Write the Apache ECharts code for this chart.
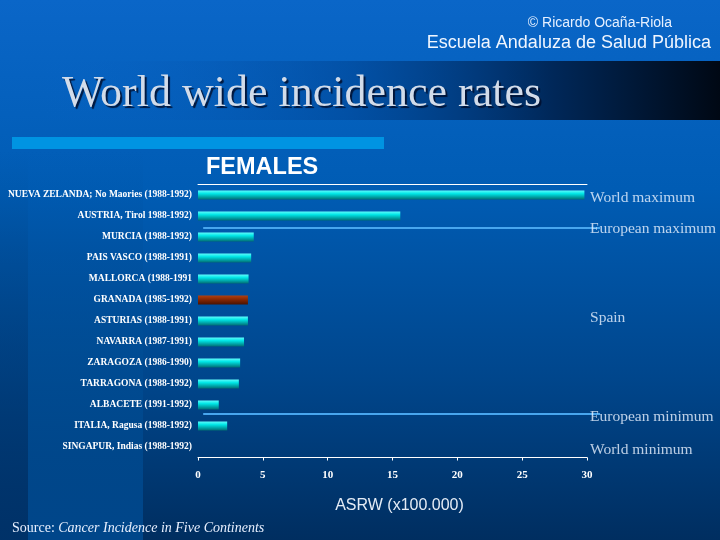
<!DOCTYPE html>
<html>
<head>
<meta charset="utf-8">
<script src="https://cdn.jsdelivr.net/npm/echarts@6/dist/echarts.min.js"></script>
<style>html,body{margin:0;padding:0;background:#0056a8;}#c{width:720px;height:540px;}</style>
</head>
<body>
<div id="c"></div>
<script>
// ---- data ----
const categories = [
  'NUEVA ZELANDA; No Maories (1988-1992)',
  'AUSTRIA, Tirol 1988-1992)',
  'MURCIA (1988-1992)',
  'PAIS VASCO (1988-1991)',
  'MALLORCA (1988-1991',
  'GRANADA (1985-1992)',
  'ASTURIAS (1988-1991)',
  'NAVARRA (1987-1991)',
  'ZARAGOZA (1986-1990)',
  'TARRAGONA (1988-1992)',
  'ALBACETE (1991-1992)',
  'ITALIA, Ragusa (1988-1992)',
  'SINGAPUR, Indias (1988-1992)'
];
const values = [29.8, 15.6, 4.3, 4.1, 3.9, 3.85, 3.85, 3.55, 3.25, 3.15, 1.6, 2.25, 0];
const highlighted = 'GRANADA (1985-1992)';
const xTicks = [0, 5, 10, 15, 20, 25, 30];
const sideLabels = ['World maximum', 'European maximum', 'Spain', 'European minimum', 'World minimum'];
const sideLabelRows = [0.65, 2.12, 6.37, 11.08, 12.66];
const refLineRows = [2.07, 10.93];
const refLineFrom = 0.4;
const refLineTo = 31;

// ---- chart ----
const chart = echarts.init(document.getElementById('c'), null, {renderer: 'canvas'});
const cyan = new echarts.graphic.LinearGradient(0, 0, 0, 1, [
  {offset: 0, color: '#5ffcfc'}, {offset: 0.35, color: '#00e6e6'}, {offset: 1, color: '#006e74'}]);
const red = new echarts.graphic.LinearGradient(0, 0, 0, 1, [
  {offset: 0, color: '#b04010'}, {offset: 0.4, color: '#8a2a04'}, {offset: 1, color: '#4a1200'}]);

const serif = '"Liberation Serif", "DejaVu Serif", serif';
const sans = '"Liberation Sans", Arial, sans-serif';

// annotation layer: same scale as main x axis, but extended to refLineTo
const refSeries = refLineRows.map(r => ({
  type: 'line', xAxisIndex: 2, yAxisIndex: 2, clip: false, silent: true,
  symbol: 'none', lineStyle: {color: '#48a6ee', width: 2},
  data: [[refLineFrom, r], [refLineTo, r]], z: 4
}));

const option = {
  animation: false,
  backgroundColor: 'transparent',
  graphic: {
    z: -100,
    elements: [
      {type: 'rect', z: -100, shape: {x: 0, y: 0, width: 720, height: 540},
        style: {fill: new echarts.graphic.LinearGradient(0, 0, 0, 1, [
          {offset: 0, color: '#0a66c8'}, {offset: 0.35, color: '#005cb4'},
          {offset: 0.7, color: '#00468c'}, {offset: 1, color: '#002e60'}])}},
      {type: 'rect', z: -99, shape: {x: 28, y: 150, width: 115, height: 390},
        style: {fill: new echarts.graphic.LinearGradient(0, 0, 0, 1, [
          {offset: 0, color: 'rgba(0,80,160,0)'}, {offset: 0.5, color: 'rgba(0,78,150,0.6)'},
          {offset: 1, color: 'rgba(0,70,138,1)'}])}},
      {type: 'rect', z: -99, shape: {x: 0, y: 150, width: 28, height: 390},
        style: {fill: new echarts.graphic.LinearGradient(0, 0, 0, 1, [
          {offset: 0, color: 'rgba(0,60,120,0)'}, {offset: 1, color: 'rgba(0,50,105,0.9)'}])}},
      {type: 'rect', z: -98, shape: {x: 40, y: 61, width: 680, height: 59},
        style: {fill: new echarts.graphic.LinearGradient(0, 0, 1, 0, [
          {offset: 0, color: 'rgba(10,100,200,0)'}, {offset: 0.45, color: 'rgba(0,70,150,0.6)'},
          {offset: 0.75, color: '#00285a'}, {offset: 1, color: '#000814'}])}},
      {type: 'rect', z: -97, shape: {x: 12, y: 137, width: 372, height: 12},
        style: {fill: '#0094e2'}},
      {type: 'text', z: 10, x: 672, y: 23,
        style: {text: '© Ricardo Ocaña-Riola', fill: '#e6f0ff', font: '14px ' + sans,
          textAlign: 'right', textVerticalAlign: 'middle'}},
      {type: 'text', z: 10, x: 711, y: 43,
        style: {text: 'Escuela Andaluza de Salud Pública', fill: '#f0f6ff', font: '18px ' + sans,
          textAlign: 'right', textVerticalAlign: 'middle'}},
      {type: 'text', z: 10, x: 62, y: 94,
        style: {text: 'World wide incidence rates', fill: '#d2dcea', font: '44px ' + serif,
          textAlign: 'left', textVerticalAlign: 'middle',
          textShadowColor: 'rgba(0,10,40,0.85)', textShadowOffsetX: 2, textShadowOffsetY: 2, textShadowBlur: 1}},
      {type: 'text', z: 10, x: 206, y: 168,
        style: {text: 'FEMALES', fill: '#ffffff', font: 'bold 23.5px ' + sans,
          textAlign: 'left', textVerticalAlign: 'middle'}},
      {type: 'text', z: 10, x: 12, y: 528,
        style: {text: '{a|Source: }{b|Cancer Incidence in Five Continents}',
          textVerticalAlign: 'middle',
          rich: {a: {fill: '#e8f0ff', color: '#e8f0ff', fontFamily: serif, fontSize: 14},
                 b: {fill: '#e8f0ff', color: '#e8f0ff', fontStyle: 'italic', fontFamily: serif, fontSize: 14}}}}
    ]
  },
  grid: [
    {left: 198, right: 133, top: 184.5, bottom: 82.5, containLabel: false},
    {left: 198, right: 120, top: 184.5, bottom: 82.5, containLabel: false}
  ],
  xAxis: [{
    type: 'value', gridIndex: 0, min: xTicks[0], max: xTicks[xTicks.length - 1], interval: 5, position: 'bottom',
    axisLine: {show: true, onZero: false, lineStyle: {color: '#ffffff', width: 1}},
    axisTick: {show: true, length: 3, lineStyle: {color: '#ffffff'}},
    splitLine: {show: false},
    axisLabel: {color: '#ffffff', fontFamily: serif, fontWeight: 'bold', fontSize: 11, margin: 12},
    name: 'ASRW (x100.000)', nameLocation: 'middle', nameGap: 40,
    nameTextStyle: {color: '#e4ecf6', fontFamily: sans, fontSize: 16, padding: [0, 0, 0, 14]}
  }, {
    type: 'value', gridIndex: 0, min: xTicks[0], max: xTicks[xTicks.length - 1], position: 'top',
    axisLine: {show: true, onZero: false, lineStyle: {color: '#ffffff', width: 1}},
    axisTick: {show: false}, axisLabel: {show: false}, splitLine: {show: false}
  }, {
    type: 'value', gridIndex: 1, min: 0, max: refLineTo, show: false
  }],
  yAxis: [{
    type: 'category', gridIndex: 0, data: categories, inverse: true,
    axisLine: {show: false}, axisTick: {show: false}, splitLine: {show: false},
    axisLabel: {color: '#ffffff', fontFamily: serif, fontWeight: 'bold', fontSize: 9.5, margin: 6,
      padding: [3, 0, 0, 0]}
  }, {
    type: 'value', gridIndex: 0, min: 0, max: categories.length, inverse: true, show: false
  }, {
    type: 'value', gridIndex: 1, min: 0, max: categories.length, inverse: true, show: false
  }],
  series: [{
    type: 'bar', xAxisIndex: 0, yAxisIndex: 0, barWidth: 9,
    data: values.map((v, i) => ({value: v, itemStyle: {color: categories[i] === highlighted ? red : cyan}})),
    silent: true
  }, {
    type: 'scatter', xAxisIndex: 0, yAxisIndex: 1, clip: false, symbolSize: 0.1,
    itemStyle: {color: 'rgba(0,0,0,0)'},
    data: sideLabels.map((t, i) => [xTicks[xTicks.length - 1], sideLabelRows[i], t]),
    label: {show: true, position: 'right', distance: 3, formatter: p => p.data[2],
      color: '#eaf2ff', fontFamily: serif, fontSize: 15.5},
    z: 5
  }].concat(refSeries)
};
chart.setOption(option);
</script>
</body>
</html>
